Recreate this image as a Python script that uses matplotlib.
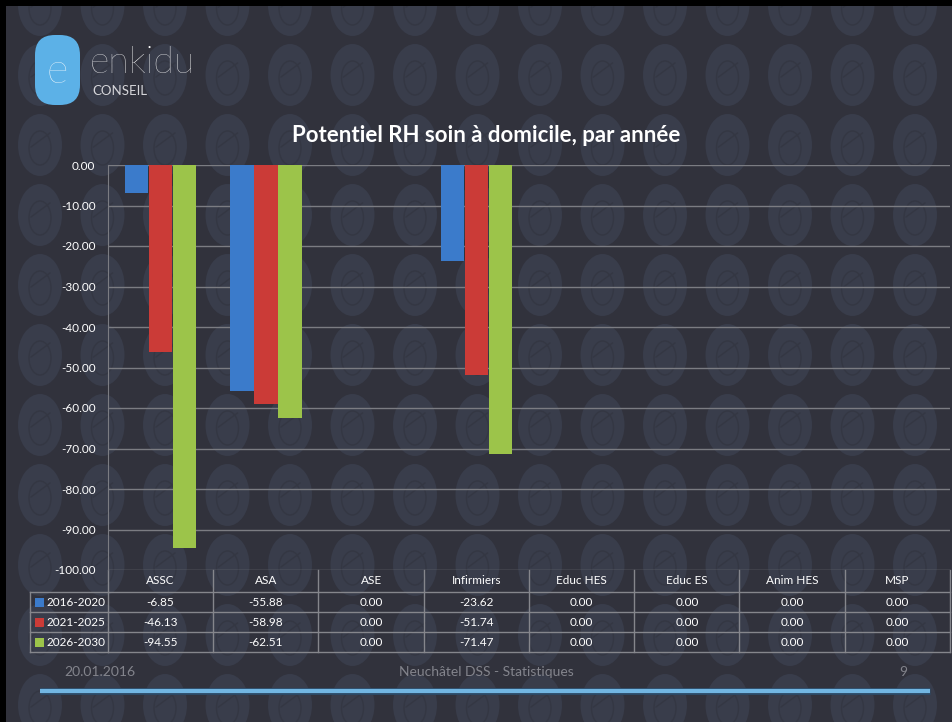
import matplotlib
matplotlib.use("Agg")
import matplotlib.pyplot as plt
from matplotlib import patches, transforms
import numpy as np

plt.rcParams['font.family'] = ['Lato', 'DejaVu Sans']

# data
categories = ['ASSC', 'ASA', 'ASE', 'Infirmiers', 'Educ HES', 'Educ ES', 'Anim HES', 'MSP']
periods = ['2016-2020', '2021-2025', '2026-2030']
v_2016 = [-6.85, -55.88, 0.00, -23.62, 0.00, 0.00, 0.00, 0.00]
v_2021 = [-46.13, -58.98, 0.00, -51.74, 0.00, 0.00, 0.00, 0.00]
v_2026 = [-94.55, -62.51, 0.00, -71.47, 0.00, 0.00, 0.00, 0.00]
colors = ['#3b7bcb', '#cb3b37', '#9cc44a']
y_ticks = [0, -10, -20, -30, -40, -50, -60, -70, -80, -90, -100]

W, H = 953, 722
bg = '#31323c'
grid_col = '#7b7c82'

fig = plt.figure(figsize=(W / 100, H / 100), dpi=100)
fig.patch.set_facecolor(bg)

# background layer in pixel coordinates
bgx = fig.add_axes([0, 0, 1, 1])
bgx.set_xlim(0, W)
bgx.set_ylim(H, 0)
bgx.axis('off')
bgx.set_zorder(0)

# pattern of faint logo ovals
for yc in np.arange(5, H + 60, 70):
    for xc in np.arange(40, W + 60, 62.5):
        bgx.add_patch(patches.Ellipse((xc, yc), 44, 62, facecolor='#393d4b', edgecolor='none'))
        bgx.add_patch(patches.Ellipse((xc, yc + 3), 22, 34, facecolor='none', edgecolor='#343743', lw=1.0))
        bgx.plot([xc - 9, xc + 10], [yc + 2, yc - 12], color='#343743', lw=1.0)

# black frame on top and left
bgx.add_patch(patches.Rectangle((0, 0), W, 6, facecolor='black', edgecolor='none', zorder=5))
bgx.add_patch(patches.Rectangle((0, 0), 6, H, facecolor='black', edgecolor='none', zorder=5))

# logo
bgx.add_patch(patches.FancyBboxPatch((38, 38), 39, 64, boxstyle='round,pad=3,rounding_size=20',
                                     facecolor='#5cb1e7', edgecolor='none', zorder=3))
bgx.text(57, 72, 'e', color='white', fontsize=30, fontweight='light', ha='center', va='center', zorder=4)
bgx.text(90, 63, 'enkidu', color='white', fontsize=27, fontweight='light', ha='left', va='center', zorder=4)
bgx.text(92, 91, 'CONSEIL', color='#d6d6da', fontsize=9.5, ha='left', va='center', zorder=4)

# title
bgx.text(486, 136, 'Potentiel RH soin à domicile, par année', color='white', fontsize=16,
         fontweight='bold', ha='center', va='center', zorder=4)

# footer
foot_col = '#83848c'
bgx.text(100, 672, '20.01.2016', color=foot_col, fontsize=10, ha='center', va='center')
bgx.text(486, 672, 'Neuchâtel DSS - Statistiques', color=foot_col, fontsize=10, ha='center', va='center')
bgx.text(903, 672, '9', color=foot_col, fontsize=10, ha='center', va='center')
bgx.plot([40, 930], [691, 691], color='#2c4a66', lw=5, solid_capstyle='butt')
bgx.plot([40, 930], [691, 691], color='#72b6e2', lw=3, solid_capstyle='butt')

# main chart
ax = fig.add_axes([108 / W, 1 - 570 / H, 842 / W, 405 / H])
ax.set_zorder(2)
ax.patch.set_alpha(0)
x = np.arange(len(categories))
bw = 0.225
for k, vals in enumerate([v_2016, v_2021, v_2026]):
    ax.bar(x + (k - 1) * 0.228, vals, width=bw, color=colors[k], zorder=3)

ax.set_xlim(-0.5, len(categories) - 0.5)
ax.set_ylim(-100, 0)
ax.set_yticks(y_ticks)
ax.set_yticklabels(['%.2f' % t for t in y_ticks], color='white', fontsize=8.5)
ax.tick_params(axis='y', length=0, pad=9)
ax.set_xticks([])
ax.yaxis.grid(True, color=grid_col, lw=1)
ax.set_axisbelow(True)
for s in ['top', 'right', 'bottom']:
    ax.spines[s].set_visible(False)
ax.spines['left'].set_color(grid_col)

# data table under the chart: x in category units, y in pixels
tr = transforms.blended_transform_factory(ax.transData, bgx.transData)
row_y = [570, 592, 612, 632, 652]
tcol = '#85868c'
for i in range(len(categories) + 1):
    bgx.plot([i - 0.5, i - 0.5], [570, 652], color=tcol, lw=1, transform=tr, clip_on=False)
for yy in row_y[1:]:
    bgx.plot([-0.5, len(categories) - 0.5], [yy, yy], color=tcol, lw=1, transform=tr, clip_on=False)
    bgx.plot([30, 108], [yy, yy], color=tcol, lw=1)
bgx.plot([30, 30], [592, 652], color=tcol, lw=1)

for i, c in enumerate(categories):
    bgx.text(i, 581, c, color='white', fontsize=8.5, ha='center', va='center', transform=tr)
for k, (p, vals) in enumerate(zip(periods, [v_2016, v_2021, v_2026])):
    yc = (row_y[k + 1] + row_y[k + 2]) / 2
    bgx.add_patch(patches.Rectangle((35, yc - 4.5), 9, 9, facecolor=colors[k], edgecolor='none'))
    bgx.text(47, yc, p, color='white', fontsize=8.5, ha='left', va='center')
    for i, v in enumerate(vals):
        bgx.text(i, yc, '%.2f' % v, color='white', fontsize=8.5, ha='center', va='center', transform=tr)

fig.savefig('out.png', dpi=100, facecolor=fig.get_facecolor())
